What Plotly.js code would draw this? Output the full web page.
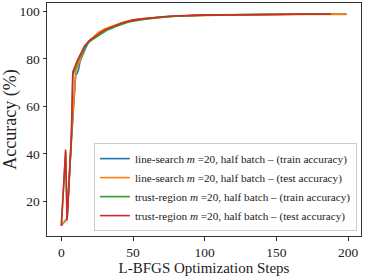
<!DOCTYPE html>
<html>
<head>
<meta charset="utf-8">
<script src="https://cdn.plot.ly/plotly-3.0.1.min.js"></script>
<style>html,body{margin:0;padding:0;background:#fff;}#chart{width:366px;height:276px;}</style>
</head>
<body>
<div id="chart"></div>
<script>
// x positions (L-BFGS steps)
const lsSteps = [0,4,7,10,11,12,13,14,15,16,17,18,19,20,22,24,26,28,30,32,34,36,38,40,42,44,46,48,50,55,60,65,70,75,80,85,90,95,100,110,120,130,140,150,160,170,180,190,199];
const trSteps = [0,3,4,7,8,9,10,11,12,13,14,15,16,17,18,19,20,22,24,26,28,30,32,34,36,38,40,42,44,46,48,50,55,60,65,70,75,80,85,90,95,100,110,120,130,140,150,160,170,180,188];

const lsTrain = [9.8,12.6,45.5,73.2,73.8,75.5,78.8,80.5,81.8,83.2,84.6,86.0,87.0,87.8,
  88.6,89.6,90.8,91.5,92.2,92.6,93.2,93.7,94.1,94.6,95.0,95.3,95.7,96.0,96.2,
  96.6,97.0,97.3,97.6,97.8,98.0,98.1,98.2,98.3,98.4,
  98.5,98.6,98.6,98.7,98.7,98.8,98.8,98.9,98.9,98.9];
const lsTest = [9.8,13.0,46.5,74.5,76.2,77.8,80.0,81.2,82.5,84.0,85.6,86.5,87.3,88.0,
  88.9,90.0,91.2,91.8,92.6,93.0,93.5,94.0,94.4,94.9,95.2,95.6,95.9,96.1,96.4,
  96.8,97.1,97.4,97.6,97.9,98.0,98.1,98.2,98.3,98.3,
  98.4,98.5,98.5,98.6,98.6,98.7,98.7,98.7,98.8,98.7];
const trTrain = [9.7,40.8,12.3,46.0,73.0,75.0,76.5,78.0,79.5,80.8,82.0,83.3,84.5,85.3,86.2,86.9,87.4,
  88.2,89.0,90.0,90.8,91.5,92.1,92.6,93.2,93.6,94.0,94.5,94.9,95.3,95.6,95.9,
  96.4,96.8,97.2,97.5,97.7,97.9,98.1,98.2,98.3,98.4,
  98.5,98.6,98.6,98.7,98.8,98.8,98.9,98.9,99.0];
const trTest = [9.7,41.8,12.0,47.5,74.5,76.2,77.5,79.0,80.3,81.6,82.8,84.0,85.2,86.0,86.8,87.5,88.0,
  88.8,89.6,90.7,91.4,92.1,92.7,93.2,93.8,94.2,94.6,95.0,95.4,95.7,96.0,96.3,
  96.7,97.1,97.4,97.7,97.9,98.1,98.2,98.3,98.4,98.4,
  98.5,98.6,98.7,98.7,98.8,98.8,98.9,98.9,98.9];

const names = [
  'line-search <i>m</i> =20, half batch – (train accuracy)',
  'line-search <i>m</i> =20, half batch – (test accuracy)',
  'trust-region <i>m</i> =20, half batch – (train accuracy)',
  'trust-region <i>m</i> =20, half batch – (test accuracy)'
];
const colors = ['#1f77b4','#ff7f0e','#2ca02c','#d62728'];
const xs = [lsSteps, lsSteps, trSteps, trSteps];
const ys = [lsTrain, lsTest, trTrain, trTest];

const traces = ys.map((y,i)=>({
  x: xs[i], y: y, type:'scatter', mode:'lines', name: names[i],
  line:{color:colors[i], width:1.6}
}));

const font = 'Liberation Serif, DejaVu Serif, serif';
const layout = {
  width:366, height:276,
  margin:{l:47, r:5, t:3, b:40},
  paper_bgcolor:'#fff', plot_bgcolor:'#fff',
  font:{family:font, color:'#222', size:14},
  showlegend:true,
  legend:{x:0.987, y:0.021, xanchor:'right', yanchor:'bottom',
    bgcolor:'rgba(255,255,255,0.85)', bordercolor:'#ccc', borderwidth:1,
    itemwidth:30,
    font:{family:font, size:11.2, color:'#222'}},
  xaxis:{range:[-10,209], tickvals:[0,50,100,150,200], showgrid:false, zeroline:false,
    showline:true, mirror:true, linecolor:'#333', linewidth:1, ticks:'outside', ticklen:3.5, tickcolor:'#333',
    tickfont:{size:13.5}, title:{text:'L-BFGS Optimization Steps', font:{size:15}, standoff:4}},
  yaxis:{range:[5.4,103.5], tickvals:[20,40,60,80,100], showgrid:false, zeroline:false,
    showline:true, mirror:true, linecolor:'#333', linewidth:1, ticks:'outside', ticklen:3.5, tickcolor:'#333',
    tickfont:{size:13.5}, title:{text:'Accuracy (%)', font:{size:18}, standoff:3}}
};
Plotly.newPlot('chart', traces, layout, {staticPlot:true, displayModeBar:false});
</script>
</body>
</html>
